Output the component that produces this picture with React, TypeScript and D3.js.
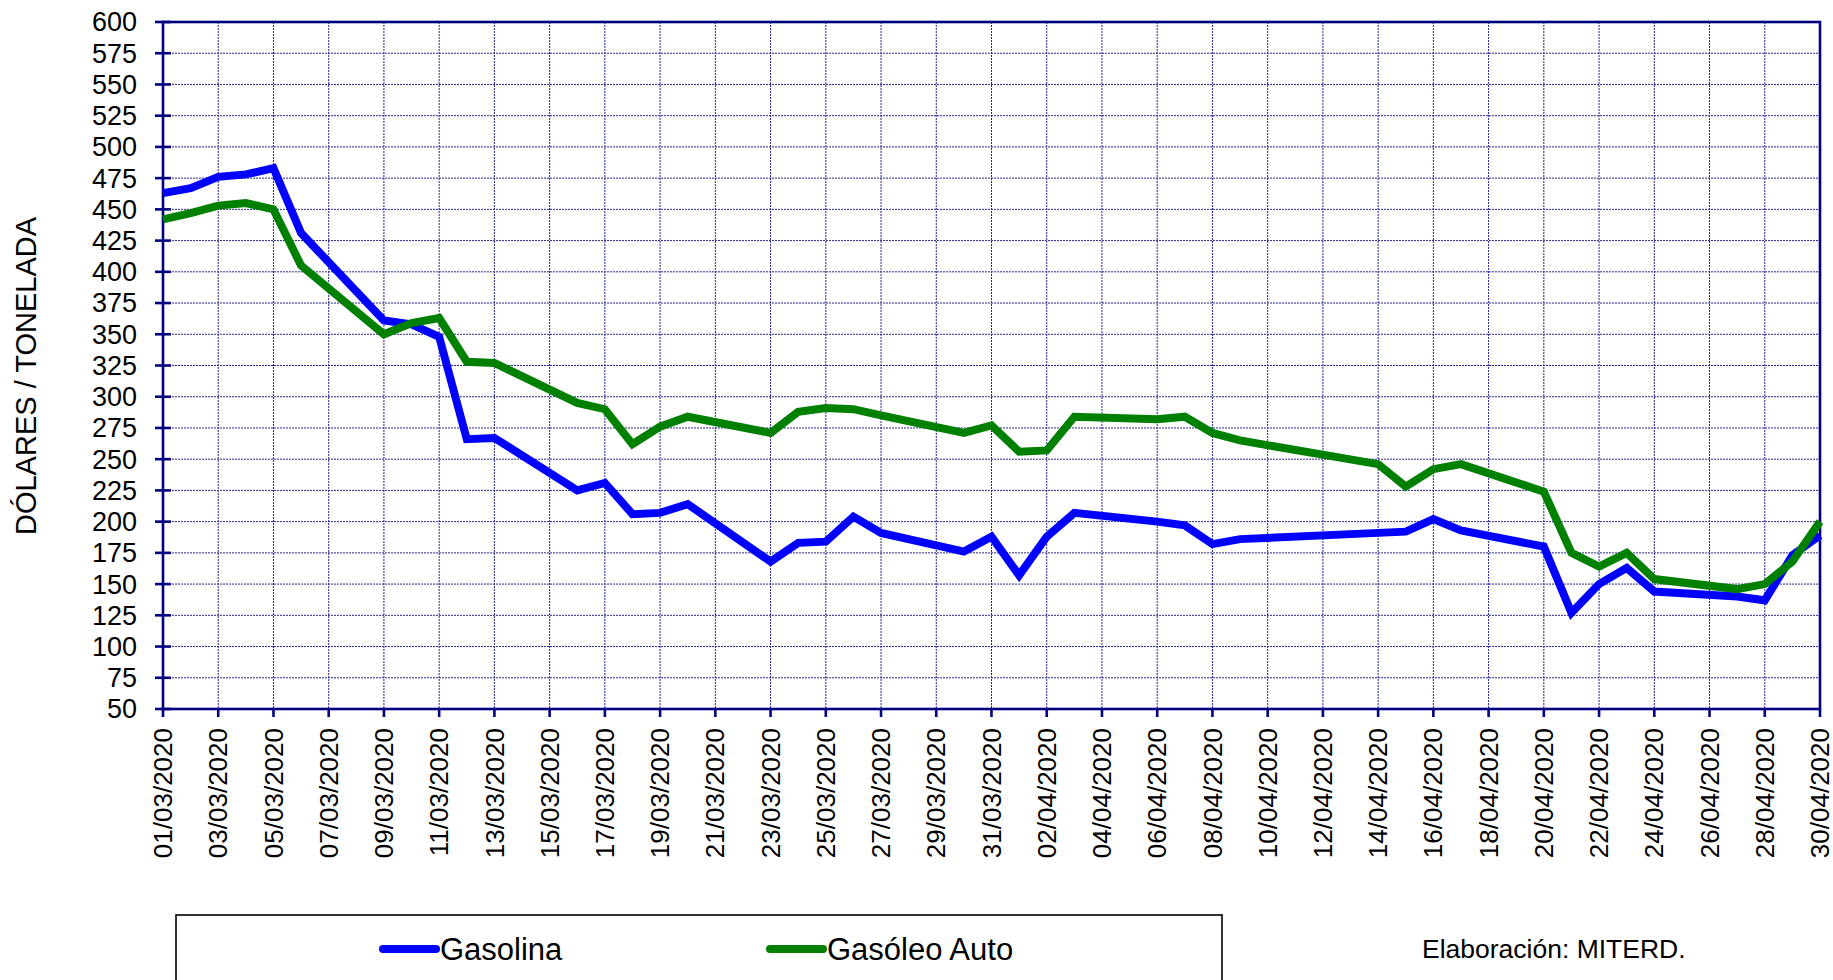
import React from 'react';
import * as d3 from 'd3';

// business days with a published quote (dd/mm of 2020)
const dates = [
  '01/03', '02/03', '03/03', '04/03', '05/03', '06/03', '09/03', '10/03', '11/03', '12/03', '13/03',
  '16/03', '17/03', '18/03', '19/03', '20/03', '23/03', '24/03', '25/03', '26/03', '27/03', '30/03',
  '31/03', '01/04', '02/04', '03/04', '06/04', '07/04', '08/04', '09/04', '14/04', '15/04', '16/04',
  '17/04', '20/04', '21/04', '22/04', '23/04', '24/04', '27/04', '28/04', '29/04', '30/04',
];

const gasolina = [
  463, 467, 476, 478, 483, 431, 361, 358, 348, 266, 267,
  225, 231, 206, 207, 214, 168, 183, 184, 204, 191, 176,
  188, 157, 188, 207, 200, 197, 182, 186, 191, 192, 202,
  193, 180, 127, 150, 163, 144, 140, 137, 173, 189,
];

const gasoleo = [
  442, 447, 453, 455, 450, 405, 350, 359, 363, 328, 327,
  295, 290, 262, 276, 284, 271, 288, 291, 290, 285, 271,
  277, 256, 257, 284, 282, 284, 271, 265, 246, 228, 242,
  246, 224, 175, 164, 175, 154, 146, 150, 168, 200,
];

const yTicks = d3.range(50, 601, 25);

const series = [
  { name: 'Gasolina', color: '#0000ff', values: gasolina },
  { name: 'Gasóleo Auto', color: '#008000', values: gasoleo },
];

const W = 1833;
const H = 980;
const M = { left: 163, right: 1820, top: 22, bottom: 709 };
const FONT = "Arial, 'Liberation Sans', sans-serif";
const NAVY = '#000080';

const parse = d3.utcParse('%d/%m/%Y');
const fmt = d3.utcFormat('%d/%m/%Y');

const App: React.FC = () => {
  const start = parse('01/03/2020') as Date;
  const end = parse('30/04/2020') as Date;

  const x = d3.scaleUtc().domain([start, end]).range([M.left, M.right]);
  const y = d3.scaleLinear().domain([50, 600]).range([M.bottom, M.top]);

  const xTicks = d3.utcDay.range(start, d3.utcDay.offset(end, 1), 2);

  const line = d3.line<[Date, number]>()
    .x(d => x(d[0]))
    .y(d => y(d[1]));

  const pts = (vals: number[]) =>
    dates.map((d, i) => [parse(d + '/2020') as Date, vals[i]] as [Date, number]);

  return (
    <svg width={W} height={H} style={{ position: 'absolute', left: 0, top: 0, background: '#fff' }}
      fontFamily={FONT}>
      {/* grid */}
      <g stroke={NAVY} strokeWidth={1} strokeDasharray="2 1" opacity={0.85}>
        {yTicks.filter(t => t > 50 && t < 600).map(t => (
          <line key={'h' + t} x1={M.left} x2={M.right} y1={y(t)} y2={y(t)} />
        ))}
        {xTicks.slice(1, -1).map(t => (
          <line key={'v' + +t} x1={x(t)} x2={x(t)} y1={M.top} y2={M.bottom} />
        ))}
      </g>

      {/* frame */}
      <rect x={M.left} y={M.top} width={M.right - M.left} height={M.bottom - M.top}
        fill="none" stroke={NAVY} strokeWidth={2.6} />

      {/* y ticks */}
      {yTicks.map(t => (
        <g key={'yt' + t}>
          <line x1={M.left - 8} x2={M.left + 8} y1={y(t)} y2={y(t)} stroke={NAVY} strokeWidth={2.6} />
          <text x={137} y={y(t)} dy="0.35em" textAnchor="end" fontSize={27} fill="#000">{t}</text>
        </g>
      ))}

      {/* x ticks */}
      {xTicks.map(t => (
        <g key={'xt' + +t}>
          <line x1={x(t)} x2={x(t)} y1={M.bottom} y2={M.bottom + 8} stroke={NAVY} strokeWidth={2.6} />
          <text transform={`translate(${x(t)},728) rotate(-90)`} dy="0.35em" textAnchor="end"
            fontSize={26} fill="#000">{fmt(t)}</text>
        </g>
      ))}

      {/* y title */}
      <text transform="translate(26,376) rotate(-90)" dy="0.35em" textAnchor="middle"
        fontSize={29} fill="#000">DÓLARES / TONELADA</text>

      {/* series */}
      {series.map(s => (
        <path key={s.name} d={line(pts(s.values)) || ''} fill="none" stroke={s.color}
          strokeWidth={8} strokeLinejoin="miter" />
      ))}

      {/* legend */}
      <rect x={176} y={915} width={1046} height={120} fill="none" stroke="#000" strokeWidth={1.6} />
      {series.map((s, i) => {
        const lx = i === 0 ? 383 : 770;
        return (
          <g key={'lg' + s.name}>
            <line x1={lx} x2={lx + 53} y1={949} y2={949} stroke={s.color} strokeWidth={8} strokeLinecap="round" />
            <text x={lx + 57} y={949} dy="0.35em" fontSize={31} fill="#000">{s.name}</text>
          </g>
        );
      })}

      <text x={1422} y={958} fontSize={26.5} fill="#000">Elaboración: MITERD.</text>
    </svg>
  );
};

export default App;
